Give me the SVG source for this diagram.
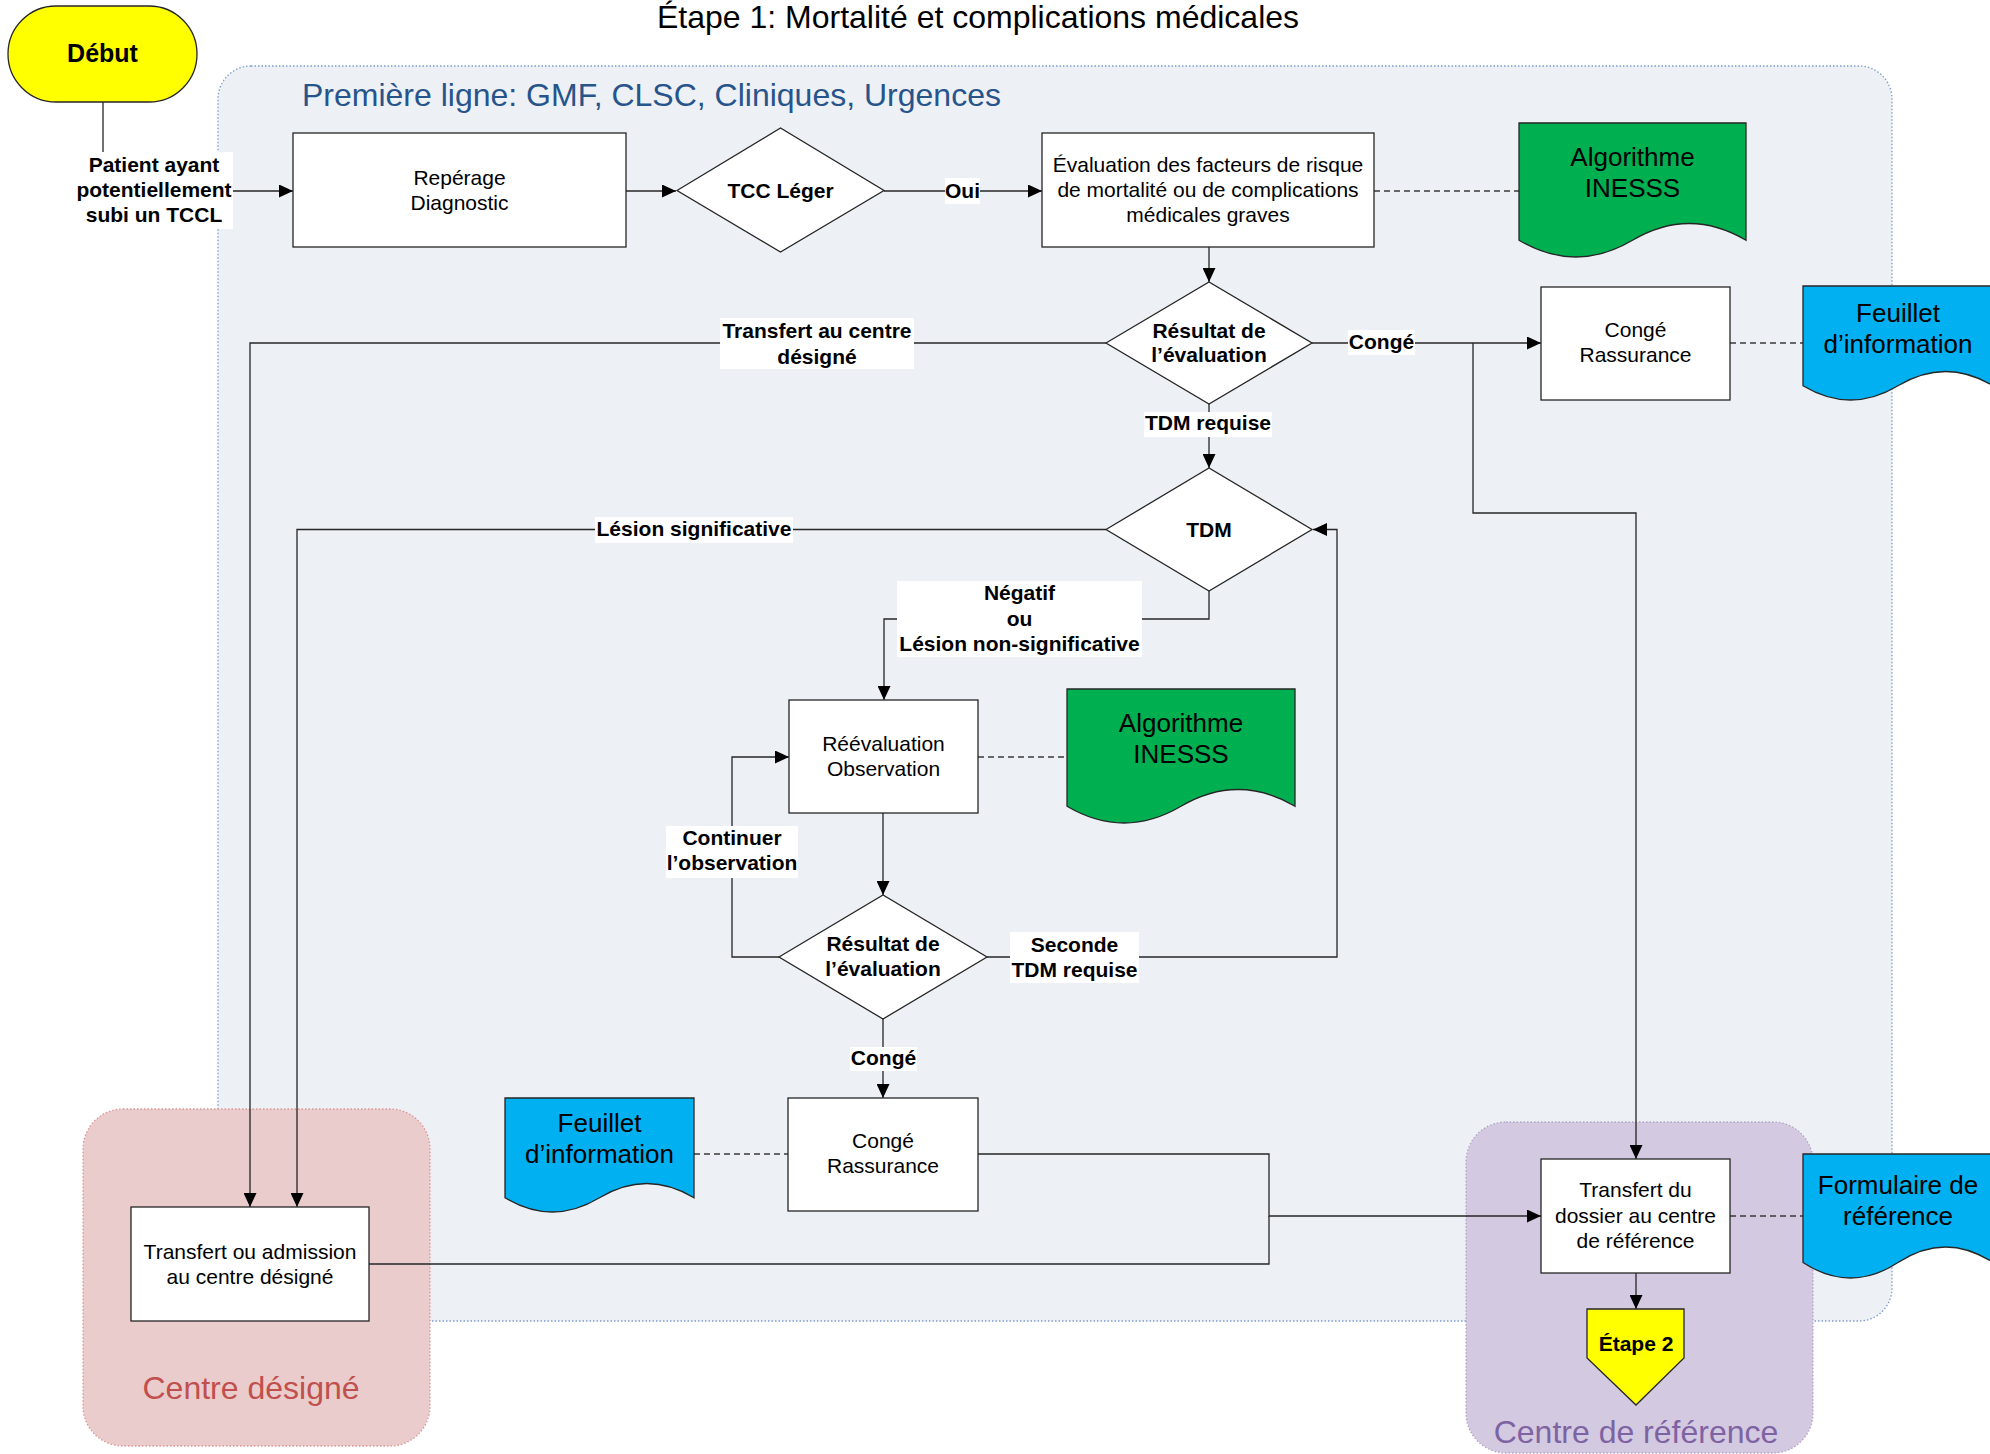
<svg xmlns="http://www.w3.org/2000/svg" width="1990" height="1454" viewBox="0 0 1990 1454">
<style>
text{font-family:"Liberation Sans",Arial,sans-serif;fill:#000}
.t{font-size:21px;text-anchor:middle}
.b{font-size:21px;font-weight:bold;text-anchor:middle}
.d{font-size:26px;text-anchor:middle}
.box{fill:#fff;stroke:#262626;stroke-width:1.3}
.dia{fill:#fff;stroke:#262626;stroke-width:1.3}
.ln{fill:none;stroke:#262626;stroke-width:1.3}
.arr{marker-end:url(#ah)}
.dash{fill:none;stroke:#3a3a3a;stroke-width:1.3;stroke-dasharray:6 4}
.lbl{fill:#fff}
.green{fill:#00B050;stroke:#262626;stroke-width:1.3}
.blue{fill:#00B0F0;stroke:#262626;stroke-width:1.3}
.yel{fill:#FFFF00;stroke:#262626;stroke-width:1.3}
</style>
<defs>
<marker id="ah" markerUnits="userSpaceOnUse" markerWidth="14" markerHeight="13" refX="14" refY="6.5" orient="auto">
<path d="M0,0 L14,6.5 L0,13 z" fill="#000"/>
</marker>
</defs>

<text x="978" y="28" style="font-size:32px;text-anchor:middle">Étape 1: Mortalité et complications médicales</text>

<g id="zone-premiere-ligne">
<rect x="218" y="66" width="1674" height="1255" rx="33" fill="#EDF0F5" stroke="#7F9CCB" stroke-width="1.3" stroke-dasharray="1.5 2"/>
<text x="302" y="106" style="font-size:32px;fill:#27548A">Première ligne: GMF, CLSC, Cliniques, Urgences</text>
</g>
<g id="zone-centre-designe">
<rect x="83" y="1109" width="347" height="337" rx="40" fill="#EBCCCC" stroke="#D99694" stroke-width="1.3" stroke-dasharray="1.5 2"/>
<text x="251" y="1399" style="font-size:32px;fill:#C0504D;text-anchor:middle">Centre désigné</text>
</g>
<g id="zone-centre-reference">
<rect x="1466" y="1122" width="347" height="331" rx="40" fill="#D3C9E0" stroke="#B3A2C7" stroke-width="1.3" stroke-dasharray="1.5 2"/>
<text x="1636" y="1443" style="font-size:32px;fill:#7E63A3;text-anchor:middle">Centre de référence</text>
</g>

<g id="connectors">
<path class="ln arr" d="M103,102 V191 H293"/>
<path class="ln arr" d="M626,191 H676"/>
<path class="ln arr" d="M884,191 H1042"/>
<path class="dash" d="M1374,191 H1519"/>
<path class="ln arr" d="M1209,247 V282"/>
<path class="ln arr" d="M1106,343 H250 V1207"/>
<path class="ln arr" d="M1312,343 H1541"/>
<path class="ln arr" d="M1473,343 V513 H1636 V1159"/>
<path class="dash" d="M1730,343 H1803"/>
<path class="ln arr" d="M1209,404 V468"/>
<path class="ln arr" d="M1106,529.5 H297 V1207"/>
<path class="ln arr" d="M1209,591 V619 H884 V700"/>
<path class="dash" d="M978,757 H1067"/>
<path class="ln arr" d="M883,813 V895"/>
<path class="ln arr" d="M779,957 H732 V757 H789"/>
<path class="ln arr" d="M987,957 H1337 V529.5 H1313"/>
<path class="ln arr" d="M883,1019 V1098"/>
<path class="dash" d="M694,1154 H788"/>
<path class="ln arr" d="M978,1154 H1269 V1216 H1541"/>
<path class="ln" d="M369,1264 H1269 V1216"/>
<path class="dash" d="M1730,1216 H1803"/>
<path class="ln arr" d="M1636,1273 V1309"/>

<g id="label-patient"><rect class="lbl" x="75" y="152" width="158" height="77"/>
<text class="b" x="154" y="172">Patient ayant</text><text class="b" x="154" y="197">potentiellement</text><text class="b" x="154" y="222">subi un TCCL</text></g>
<g id="label-oui"><rect class="lbl" x="945" y="178" width="35" height="26"/><text class="b" x="962.5" y="198">Oui</text></g>
<g id="label-transfert"><rect class="lbl" x="720" y="318" width="194" height="51"/>
<text class="b" x="817" y="338">Transfert au centre</text><text class="b" x="817" y="364">désigné</text></g>
<g id="label-conge1"><rect class="lbl" x="1348" y="330" width="67" height="25"/><text class="b" x="1381.5" y="349">Congé</text></g>
<g id="label-tdm-requise"><rect class="lbl" x="1144" y="412" width="128" height="25"/><text class="b" x="1208" y="430">TDM requise</text></g>
<g id="label-lesion"><rect class="lbl" x="595" y="517" width="198" height="26"/><text class="b" x="694" y="536">Lésion significative</text></g>
<g id="label-negatif"><rect class="lbl" x="897" y="581" width="245" height="76"/>
<text class="b" x="1019.5" y="600">Négatif</text><text class="b" x="1019.5" y="626">ou</text><text class="b" x="1019.5" y="651">Lésion non-significative</text></g>
<g id="label-continuer"><rect class="lbl" x="666" y="826" width="132" height="52"/>
<text class="b" x="732" y="845">Continuer</text><text class="b" x="732" y="870">l’observation</text></g>
<g id="label-seconde"><rect class="lbl" x="1010" y="932" width="129" height="51"/>
<text class="b" x="1074.5" y="952">Seconde</text><text class="b" x="1074.5" y="977">TDM requise</text></g>
<g id="label-conge2"><rect class="lbl" x="850" y="1047" width="67" height="24"/><text class="b" x="883.5" y="1065">Congé</text></g>
</g>

<g id="debut"><rect class="yel" x="8" y="6" width="189" height="96" rx="48"/>
<text x="102.5" y="62" style="font-size:25px;font-weight:bold;text-anchor:middle">Début</text></g>

<g id="reperage"><rect class="box" x="293" y="133" width="333" height="114"/>
<text class="t" x="459.5" y="185">Repérage</text><text class="t" x="459.5" y="210">Diagnostic</text></g>

<g id="tcc-leger"><polygon class="dia" points="677,190.5 780.5,128 884,190.5 780.5,252"/>
<text class="b" x="780.5" y="198">TCC Léger</text></g>

<g id="evaluation"><rect class="box" x="1042" y="133" width="332" height="114"/>
<text class="t" x="1208" y="172">Évaluation des facteurs de risque</text>
<text class="t" x="1208" y="197">de mortalité ou de complications</text>
<text class="t" x="1208" y="222">médicales graves</text></g>

<g id="algorithme-1"><path class="green" d="M1519,123 H1746 V240.25 Q1689.25,206.75 1632.5,240.25 T1519,240.25 Z"/>
<text class="d" x="1632.5" y="166">Algorithme</text><text class="d" x="1632.5" y="197">INESSS</text></g>

<g id="resultat-1"><polygon class="dia" points="1106,343 1209,282 1312,343 1209,404"/>
<text class="b" x="1209" y="338">Résultat de</text><text class="b" x="1209" y="362">l’évaluation</text></g>

<g id="conge-1"><rect class="box" x="1541" y="287" width="189" height="113"/>
<text class="t" x="1635.5" y="337">Congé</text><text class="t" x="1635.5" y="362">Rassurance</text></g>

<g id="feuillet-1"><path class="blue" d="M1803,286 H1993 V385.75 Q1945.5,357.25 1898,385.75 T1803,385.75 Z"/>
<text class="d" x="1898" y="322">Feuillet</text><text class="d" x="1898" y="353">d’information</text></g>

<g id="tdm"><polygon class="dia" points="1106,529.5 1209,468 1312,529.5 1209,591"/>
<text class="b" x="1209" y="537">TDM</text></g>

<g id="reevaluation"><rect class="box" x="789" y="700" width="189" height="113"/>
<text class="t" x="883.5" y="751">Réévaluation</text><text class="t" x="883.5" y="776">Observation</text></g>

<g id="algorithme-2"><path class="green" d="M1067,689 H1295 V806.25 Q1238,772.75 1181,806.25 T1067,806.25 Z"/>
<text class="d" x="1181" y="732">Algorithme</text><text class="d" x="1181" y="763">INESSS</text></g>

<g id="resultat-2"><polygon class="dia" points="779,957 883,895 987,957 883,1019"/>
<text class="b" x="883" y="951">Résultat de</text><text class="b" x="883" y="976">l’évaluation</text></g>

<g id="conge-2"><rect class="box" x="788" y="1098" width="190" height="113"/>
<text class="t" x="883" y="1148">Congé</text><text class="t" x="883" y="1173">Rassurance</text></g>

<g id="feuillet-2"><path class="blue" d="M505,1098 H694 V1197.75 Q646.75,1169.25 599.5,1197.75 T505,1197.75 Z"/>
<text class="d" x="599.5" y="1132">Feuillet</text><text class="d" x="599.5" y="1163">d’information</text></g>

<g id="transfert-admission"><rect class="box" x="131" y="1207" width="238" height="114"/>
<text class="t" x="250" y="1259">Transfert ou admission</text><text class="t" x="250" y="1284">au centre désigné</text></g>

<g id="transfert-dossier"><rect class="box" x="1541" y="1159" width="189" height="114"/>
<text class="t" x="1635.5" y="1197">Transfert du</text><text class="t" x="1635.5" y="1223">dossier au centre</text><text class="t" x="1635.5" y="1248">de référence</text></g>

<g id="formulaire"><path class="blue" d="M1803,1154 H1993 V1262.5 Q1945.5,1231.5 1898,1262.5 T1803,1262.5 Z"/>
<text class="d" x="1898" y="1194">Formulaire de</text><text class="d" x="1898" y="1225">référence</text></g>

<g id="etape-2"><polygon class="yel" points="1587,1309 1684,1309 1684,1358 1636,1405 1587,1358"/>
<text class="b" x="1636" y="1351">Étape 2</text></g>
</svg>
